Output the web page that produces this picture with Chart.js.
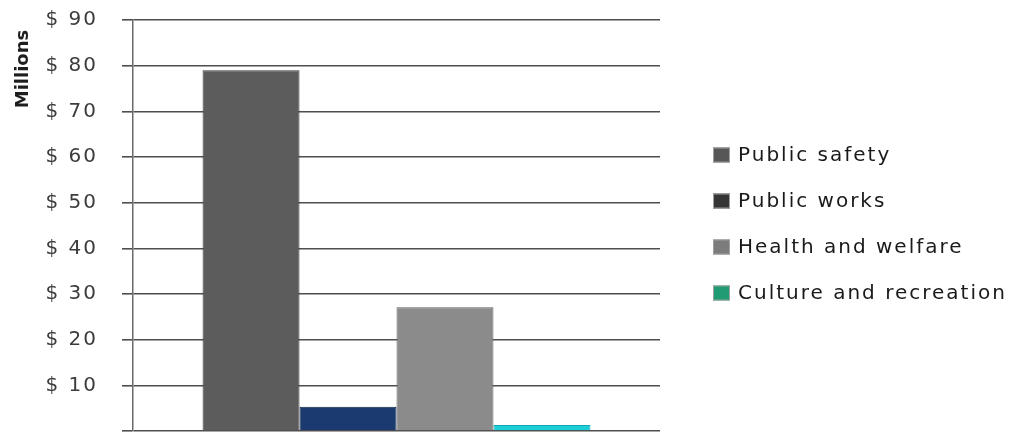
<!DOCTYPE html>
<html>
<head>
<meta charset="utf-8">
<script src="https://cdn.jsdelivr.net/npm/chart.js@4"></script>
<style>
html,body{margin:0;padding:0;background:#fff;}
#wrap{width:1013px;height:433px;position:relative;}
</style>
</head>
<body>
<div id="wrap"><canvas id="c" width="1013" height="433"></canvas></div>
<script>
const categories = ['Public safety', 'Public works', 'Health and welfare', 'Culture and recreation'];
const values = [79.0, 5.3, 27.1, 1.3];
const barColors = ['#5c5c5c', '#1b3b70', '#8b8b8b', '#1ccfd6'];
const borderColors = ['#3c3c3c', '#0e2548', '#5e5e5e', '#10a8b0'];
const legendColors = ['#575757', '#353535', '#7c7c7c', '#1f9c74'];
const yTickLabels = ['', '$ 10', '$ 20', '$ 30', '$ 40', '$ 50', '$ 60', '$ 70', '$ 80', '$ 90'];
const yTitle = 'Millions';

const spacingPlugin = {
  id: 'spacing',
  beforeUpdate(chart) { chart.ctx.letterSpacing = '2px'; },
  beforeLayout(chart) { chart.ctx.letterSpacing = '2px'; },
  beforeDraw(chart) { chart.ctx.letterSpacing = '2px'; }
};

const titlePlugin = {
  id: 'ytitle',
  afterDraw(chart) {
    const ctx = chart.ctx;
    ctx.save();
    ctx.letterSpacing = '0px';
    ctx.translate(23, 69);
    ctx.rotate(-Math.PI / 2);
    ctx.font = 'bold 18px "DejaVu Sans"';
    ctx.fillStyle = '#1e1e1e';
    ctx.textAlign = 'center';
    ctx.textBaseline = 'middle';
    ctx.fillText(yTitle, 0, 0);
    ctx.restore();
  }
};

const legendPlugin = {
  id: 'sideLegend',
  afterDraw(chart) {
    const ctx = chart.ctx;
    const area = chart.chartArea;
    ctx.save();
    ctx.letterSpacing = '2px';
    ctx.font = '20px "DejaVu Sans"';
    ctx.textAlign = 'left';
    ctx.textBaseline = 'middle';
    const boxX = area.right + 53;
    const midY = (area.top + area.bottom) / 2;
    const step = 46;
    chart.data.datasets.forEach((ds, i) => {
      const cy = midY + (i - (chart.data.datasets.length - 1) / 2) * step - 1;
      ctx.fillStyle = legendColors[i];
      ctx.fillRect(boxX, cy - 8, 17, 15);
      ctx.strokeStyle = '#a0a0a0';
      ctx.lineWidth = 1;
      ctx.strokeRect(boxX + 0.5, cy - 7.5, 16, 14);
      ctx.fillStyle = '#1a1a1a';
      ctx.fillText(ds.label, boxX + 25, cy);
    });
    ctx.restore();
  }
};

new Chart(document.getElementById('c'), {
  type: 'bar',
  data: {
    labels: [''],
    datasets: categories.map((name, i) => ({
      label: name,
      data: [values[i]],
      backgroundColor: barColors[i],
      borderColor: borderColors[i],
      borderWidth: 1,
      barPercentage: 1,
      categoryPercentage: 0.736
    }))
  },
  options: {
    responsive: false,
    animation: false,
    devicePixelRatio: 1,
    layout: { padding: { top: 20, bottom: 2, left: 0, right: 353 } },
    plugins: {
      tooltip: { enabled: false },
      legend: { display: false }
    },
    scales: {
      x: {
        display: false
      },
      y: {
        min: 0,
        max: 90,
        ticks: {
          stepSize: 10,
          padding: 24,
          color: '#3c3c3c',
          font: { family: '"DejaVu Sans"', size: 20 },
          callback: (v, i) => yTickLabels[i]
        },
        grid: {
          color: '#4e4e4e',
          lineWidth: 1.6,
          tickLength: 11
        },
        border: { display: true, color: '#6a6a6a', width: 1.5 },
        afterFit(s) { s.width = 133; s.paddingTop = 0; s.paddingBottom = 0; }
      }
    }
  },
  plugins: [spacingPlugin, titlePlugin, legendPlugin]
});
</script>
</body>
</html>
